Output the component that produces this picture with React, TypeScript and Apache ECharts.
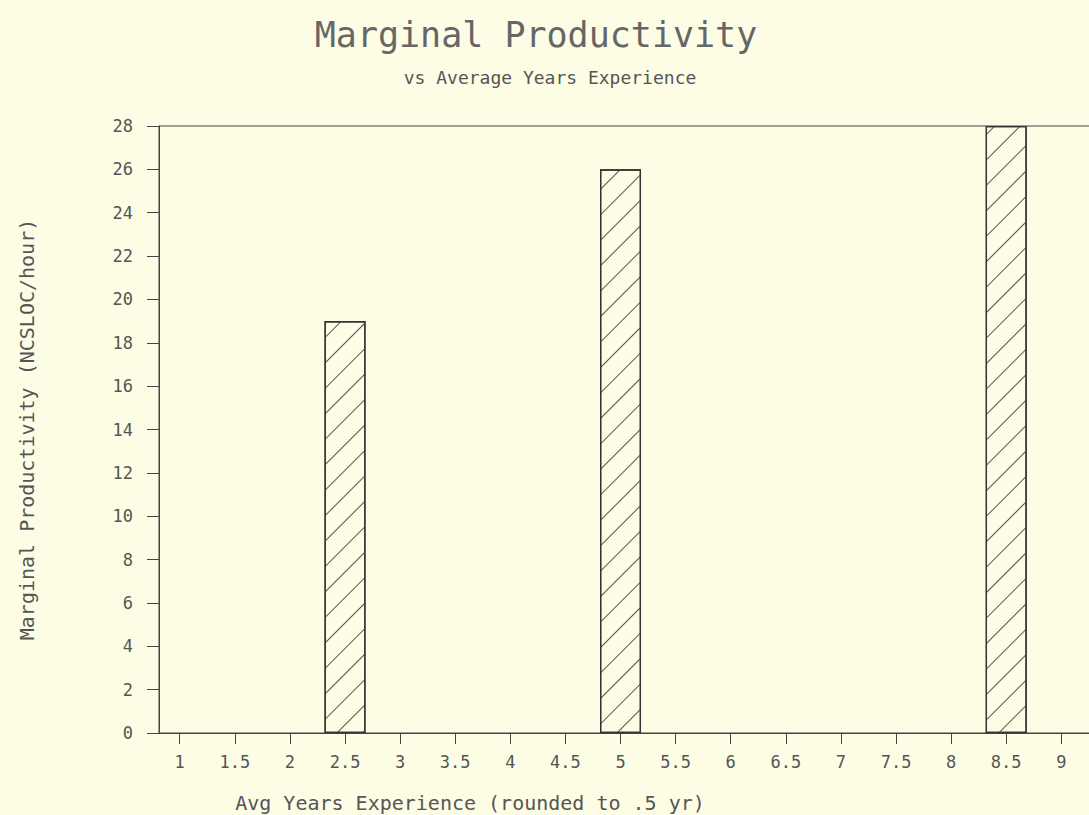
import React, { useEffect, useRef } from "react";
import * as echarts from "echarts";

const xTicks = [1, 1.5, 2, 2.5, 3, 3.5, 4, 4.5, 5, 5.5, 6, 6.5, 7, 7.5, 8, 8.5, 9];
const barX = [2.5, 5, 8.5];
const barValues = [19, 26, 28];
const yMin = 0;
const yMax = 28;
const yStep = 2;

const titleText = "Marginal Productivity";
const subtitleText = "vs Average Years Experience";
const xName = "Avg Years Experience (rounded to .5 yr)";
const yName = "Marginal Productivity (NCSLOC/hour)";

const FONT = "DejaVu Sans Mono";
const INK = "#555";
const BG = "#fdfde6";

export default function App() {
  const ref = useRef<HTMLDivElement>(null);
  useEffect(() => {
    if (!ref.current) return;
    const chart = echarts.init(ref.current, undefined, { renderer: "svg" });
    chart.setOption({
      animation: false,
      backgroundColor: BG,
      textStyle: { fontFamily: FONT, color: INK },
      grid: {
        left: 159,
        top: 126,
        bottom: 82,
        width: 945,
        outerBoundsMode: "none",
        containLabel: false,
        show: true,
        borderColor: "#444",
        borderWidth: 1,
        backgroundColor: "transparent",
      },
      graphic: [
        {
          type: "text",
          x: 536,
          y: 35,
          style: {
            text: titleText,
            textAlign: "center",
            textVerticalAlign: "middle",
            fontFamily: FONT,
            fontSize: 35,
            fill: "#666",
          },
        },
        {
          type: "text",
          x: 550,
          y: 77,
          style: {
            text: subtitleText,
            textAlign: "center",
            textVerticalAlign: "middle",
            fontFamily: FONT,
            fontSize: 18,
            fill: INK,
          },
        },
        {
          type: "text",
          x: 470,
          y: 803,
          style: {
            text: xName,
            textAlign: "center",
            textVerticalAlign: "middle",
            fontFamily: FONT,
            fontSize: 20,
            fill: INK,
          },
        },
      ],
      xAxis: {
        type: "value",
        min: 0.812,
        max: 0.812 + 945 / 110.2,
        splitLine: { show: false },
        axisLine: { show: true, onZero: false, lineStyle: { color: "#444", width: 1 } },
        axisTick: {
          show: true,
          length: 11,
          customValues: xTicks,
          lineStyle: { color: "#444" },
        },
        axisLabel: {
          customValues: xTicks,
          margin: 20,
          fontFamily: FONT,
          fontSize: 17,
          color: INK,
          formatter: (v: number) => String(v),
        },
      },
      yAxis: {
        type: "value",
        min: yMin,
        max: yMax,
        interval: yStep,
        name: yName,
        nameLocation: "middle",
        nameGap: 122,
        nameTextStyle: { fontFamily: FONT, fontSize: 20, color: INK },
        splitLine: { show: false },
        axisLine: { show: true, lineStyle: { color: "#444", width: 1 } },
        axisTick: { show: true, length: 12, lineStyle: { color: "#444" } },
        axisLabel: { margin: 26, fontFamily: FONT, fontSize: 17, color: INK },
      },
      series: [
        {
          type: "bar",
          barWidth: 41,
          data: barX.map((x, i) => [x, barValues[i]]),
          itemStyle: {
            color: BG,
            borderColor: "#333",
            borderWidth: 1.3,
            decal: {
              symbol: "rect",
              symbolSize: 1,
              color: "#555",
              dashArrayX: [1, 0],
              dashArrayY: [1, 17],
              rotation: -Math.PI / 4,
            },
          },
        },
      ],
    });
    return () => chart.dispose();
  }, []);
  return (
    <div
      ref={ref}
      style={{ position: "fixed", left: 0, top: 0, width: 1089, height: 815, background: BG }}
    />
  );
}
